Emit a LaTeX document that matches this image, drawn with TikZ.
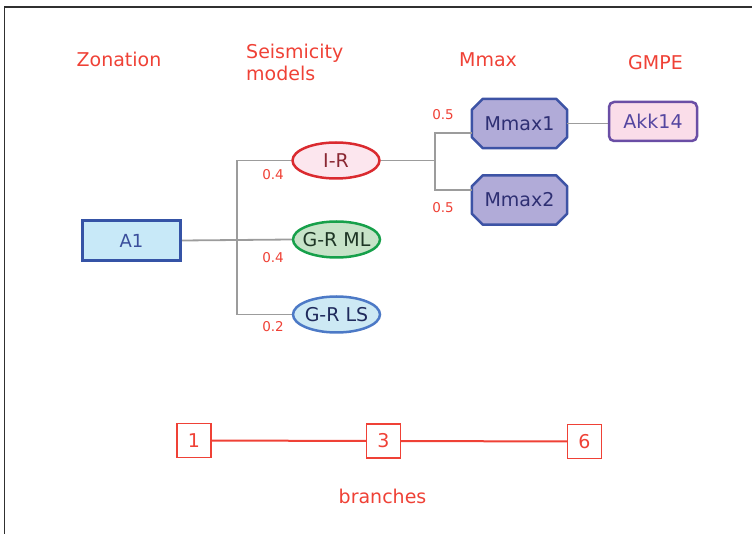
\documentclass[tikz,border=0pt]{standalone}
\usepackage{fontspec}
\setmainfont{DejaVu Sans}
\usetikzlibrary{shapes.geometric,backgrounds}
\definecolor{titlered}{HTML}{EF4136}
\definecolor{aonefill}{HTML}{C8E9F8}
\definecolor{aonedraw}{HTML}{3553A6}
\definecolor{aonetext}{HTML}{3A4E9C}
\definecolor{irfill}{HTML}{FCE6EE}
\definecolor{irdraw}{HTML}{DA2A2F}
\definecolor{irtext}{HTML}{8A2833}
\definecolor{mlfill}{HTML}{C7E3C8}
\definecolor{mldraw}{HTML}{16A04A}
\definecolor{mltext}{HTML}{1E3525}
\definecolor{lsfill}{HTML}{CDE9F4}
\definecolor{lsdraw}{HTML}{4C79C6}
\definecolor{lstext}{HTML}{1F2A5C}
\definecolor{mmfill}{HTML}{B1ABD8}
\definecolor{mmdraw}{HTML}{3D53A5}
\definecolor{mmtext}{HTML}{2E2F73}
\definecolor{akfill}{HTML}{FADDE9}
\definecolor{akdraw}{HTML}{6A4EA5}
\definecolor{aktext}{HTML}{5446A0}
\definecolor{conngray}{HTML}{9C9C9C}
\definecolor{framegray}{HTML}{303030}
\tikzset{
  title/.style={text=titlered,font=\fontsize{19}{22}\selectfont,anchor=base,inner sep=0pt},
  weight/.style={text=titlered,font=\fontsize{13.5}{16}\selectfont,inner sep=0pt},
  model/.style={ellipse,minimum width=87pt,minimum height=36pt,inner sep=0pt,line width=2.5pt,font=\fontsize{19}{23}\selectfont},
  mmnode/.style={rectangle,minimum width=95pt,minimum height=49pt,inner sep=0pt,text=mmtext,font=\fontsize{19}{22}\selectfont},
  octo/.style={fill=mmfill,draw=mmdraw,line width=2.5pt,line join=round},
  conn/.style={draw=conngray,line width=1.8pt},
  brbox/.style={rectangle,draw=titlered,line width=1.3pt,minimum size=34pt,inner sep=0pt,text=titlered,font=\fontsize{19}{22}\selectfont},
  brline/.style={draw=titlered,line width=2pt}
}
\begin{document}
\begin{tikzpicture}[x=1pt,y=-1pt]
\useasboundingbox (0,0) rectangle (752,534);
% frame
\draw[framegray,line width=1.6pt] (4.5,534) -- (4.5,7) -- (752,7);
% titles
\node[title] (tzon) at (119,66.7) {Zonation};
\node[title,anchor=base west] (tseis) at (246,58.3) {Seismicity};
\node[title,anchor=base west] (tmod) at (246,80.3) {models};
\node[title] (tmmax) at (488,66.7) {Mmax};
\node[title] (tgmpe) at (655.5,70) {GMPE};
% nodes
\node[rectangle,minimum width=98pt,minimum height=40pt,fill=aonefill,draw=aonedraw,line width=3pt,text=aonetext,font=\fontsize{18}{22}\selectfont] (A1) at (131.5,240.5) {A1};
\node[model,fill=irfill,draw=irdraw,text=irtext] (IR) at (336,160.5) {\makebox[0pt]{I-R}};
\node[model,fill=mlfill,draw=mldraw,text=mltext] (ML) at (336.5,239.5) {\makebox[0pt]{G-R ML}};
\node[model,fill=lsfill,draw=lsdraw,text=lstext] (LS) at (336.5,314.5) {\makebox[0pt]{G-R LS}};
\node[mmnode] (M1) at (519.5,123.5) {Mmax1};
\node[mmnode] (M2) at (519.5,200) {Mmax2};
\begin{scope}[on background layer]
\foreach \n in {M1,M2}{
  \draw[octo] ([xshift=11pt]\n.north west) -- ([xshift=-11pt]\n.north east) -- ([yshift=-11pt]\n.north east)
     -- ([yshift=11pt]\n.south east) -- ([xshift=-11pt]\n.south east) -- ([xshift=11pt]\n.south west)
     -- ([yshift=11pt]\n.south west) -- ([yshift=-11pt]\n.north west) -- cycle;
}
\end{scope}
\node[rectangle,rounded corners=5pt,minimum width=88pt,minimum height=39pt,inner sep=0pt,fill=akfill,draw=akdraw,line width=2.5pt,text=aktext,font=\fontsize{19}{22}\selectfont] (AK) at (653,121.5) {Akk14};
% connectors
\coordinate (j1) at (237,240);
\coordinate (j2) at (435,160.5);
\begin{scope}[on background layer]
\draw[conn] (A1.east) -- (ML.west);
\draw[conn] (IR.west) -| (j1) |- (LS.west);
\draw[conn] (IR.east) -- (j2);
\draw[conn] ([yshift=-9.5pt]M1.west) -| (j2) |- ([yshift=10pt]M2.west);
\draw[conn] (M1.east) -- (AK.west |- M1.east);
\end{scope}
% weights
\node[weight] (w1) at (273,175) {0.4};
\node[weight] (w2) at (273,258) {0.4};
\node[weight] (w3) at (273,327) {0.2};
\node[weight] (w4) at (443,115) {0.5};
\node[weight] (w5) at (443,208) {0.5};
% branches
\node[brbox] (b1) at (194,440.5) {1};
\node[brbox] (b3) at (383.5,441) {3};
\node[brbox] (b6) at (584.5,441.5) {6};
\draw[brline] (b1) -- (b3);
\draw[brline] (b3) -- (b6);
\node[title] (tbr) at (382.5,503) {branches};
\end{tikzpicture}
\end{document}
